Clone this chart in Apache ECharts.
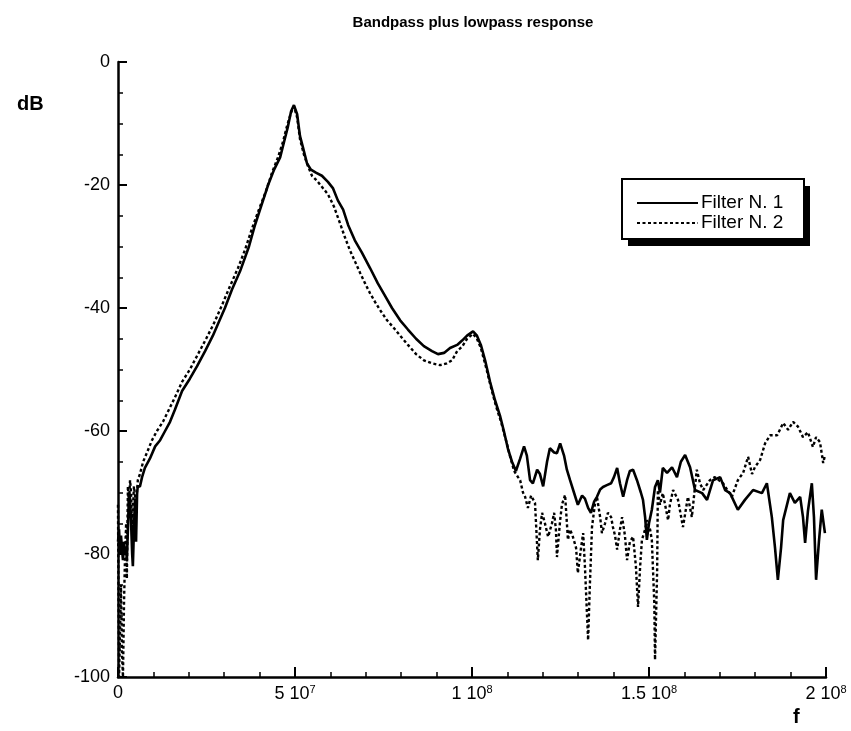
<!DOCTYPE html>
<html>
<head>
<meta charset="utf-8">
<title>Bandpass plus lowpass response</title>
<script src="https://cdn.jsdelivr.net/npm/echarts@6/dist/echarts.min.js"></script>
<style>
  html, body { margin: 0; padding: 0; background: #fff; }
  #chart { width: 851px; height: 731px; }
</style>
</head>
<body>
<div id="chart"></div>
<script>
// Frequency response of two filters: frequency in MHz, magnitude in dB.
const freq1MHz = [0, 0.3, 0.6, 0.85, 1.1, 1.4, 1.7, 2.0, 2.3, 2.5, 2.8, 3.1, 3.4, 3.7, 4.0, 4.2, 4.5, 4.8, 5.1, 5.4, 5.6,
  6.2, 6.8, 7.6, 9.0, 10.5, 11.9, 13.3, 14.7, 16.1, 18.1, 20.3, 22.3, 24.6, 26.8, 30.2, 32.2, 34.5, 37.0, 38.7, 40.7,
  42.4, 44.1, 45.8, 46.9, 48.0, 48.9, 49.7, 50.6, 51.4, 52.3, 53.4, 54.5, 55.9, 57.6, 59.3, 60.7, 62.1, 63.6, 65.0,
  66.9, 68.9, 71.2, 73.4, 75.4, 77.4, 79.7, 81.9, 84.2, 86.4, 88.7, 90.4, 92.1, 93.8, 95.8, 97.2, 98.6, 100.3, 101.4,
  102.5, 103.7, 105.1, 106.5, 107.9, 109.0, 110.2, 111.3, 112.4, 113.6, 114.7, 115.5, 116.4, 117.2, 118.4, 119.2,
  120.1, 121.2, 122.0, 123.2, 124.0, 124.9, 126.0, 126.8, 127.7, 128.8, 129.9, 131.1, 131.9, 132.8, 133.6, 134.5,
  135.3, 136.2, 137.0, 138.1, 139.3, 140.1, 141.0, 141.8, 142.7, 143.8, 144.6, 145.5, 146.6, 147.7, 148.3, 148.9,
  149.4, 150.0, 150.8, 151.7, 152.5, 153.1, 153.9, 155.1, 156.5, 157.9, 159.0, 160.2, 161.6, 163.0, 165.0, 166.4,
  168.1, 170.1, 171.5, 172.9, 175.1, 177.1, 179.4, 181.9, 183.3, 184.7, 185.6, 186.4, 187.3, 187.9, 189.8, 191.2,
  192.7, 193.5, 194.1, 194.9, 196.0, 196.6, 197.2, 198.0, 198.8, 199.7];
const db1 = [-78, -76, -80, -77, -79, -81, -78, -80, -79, -81, -76, -70, -71, -75, -80, -82, -76, -71, -78, -70, -69,
  -69, -67.5, -66, -64.5, -62.5, -61.5, -60, -58.5, -56.5, -53.5, -51.5, -49.5, -47, -44.5, -40, -37, -34, -30, -26.5, -23,
  -20, -17.5, -15.5, -13, -10.5, -8, -7, -8.5, -12, -14, -16.5, -17.5, -18, -18.5, -19.5, -20.5, -22.5, -24, -26.5,
  -29, -31, -33.5, -36, -38, -40, -42, -43.5, -45, -46.2, -47, -47.5, -47.3, -46.5, -46, -45.3, -44.5, -43.8, -44.5,
  -46, -48.5, -52, -55, -57.5, -60, -63, -65, -66.5, -64.5, -62.5, -64, -68, -68.5, -66.3, -67,
  -69, -65, -62.8, -63.5, -63.6, -62, -64, -66.3, -68, -70, -72, -70.5, -71, -72.5, -73.3, -71.5,
  -70.7, -69.5, -69.1, -68.8, -68.5, -67.5, -66, -68.5, -70.7, -68, -66.5, -66.3, -68, -70, -71.2, -74,
  -77.7, -75, -72.8, -69.1, -68, -70, -66, -66.8, -65.9, -67.5, -65, -63.9, -65.9, -69.6, -70.1, -71.2,
  -68, -67.5, -69.6, -70.1, -72.8, -71.2, -69.6, -70.1, -68.5, -74, -79, -84.2, -79, -74.5, -70.1, -71.7,
  -70.7, -74, -78.2, -73, -68.5, -74, -84.2, -78, -72.8, -76.6];

const freq2MHz = [0, 0.15, 0.3, 0.6, 0.85, 1.1, 1.4, 1.7, 2.0, 2.3, 2.5, 2.8, 3.1, 3.4, 3.7, 4.0, 4.2, 4.5, 5.1, 5.6,
  6.2, 7.1, 8.2, 9.6, 11.0, 12.7, 14.4, 16.1, 18.1, 20.3, 22.6, 24.9, 27.1, 29.4, 31.6, 33.9, 35.9, 37.9, 39.8, 41.8,
  43.5, 45.2, 46.6, 47.7, 48.9, 49.7, 50.6, 51.4, 52.5, 53.7, 54.8, 56.2, 57.6, 59.3, 61.0, 62.7, 64.1, 65.5, 67.0,
  68.4, 69.8, 71.2, 72.6, 74.0, 76.0, 77.7, 79.7, 81.9, 84.2, 86.4, 88.7, 91.0, 92.9, 94.4, 95.8, 97.2, 98.6, 100.3,
  101.4, 102.5, 103.9, 105.4, 106.8, 108.2, 109.6, 110.7, 111.9, 113.0, 113.6, 114.4, 115.0, 115.8, 116.7, 117.8,
  118.6, 119.2, 119.8, 120.6, 121.5, 122.6, 123.2, 123.7, 124.0, 124.9, 125.4, 126.3, 127.1, 127.7, 128.5, 129.4,
  129.9, 130.8, 131.4, 131.9, 132.8, 133.3, 133.9, 134.7, 135.3, 136.2, 136.7, 137.6, 138.4, 139.3, 139.8, 140.4,
  141.0, 141.8, 142.4, 143.2, 143.8, 144.6, 145.5, 146.3, 146.9, 147.5, 148.0, 148.9, 149.4, 150.3, 150.8, 151.5,
  151.7, 152.0, 152.3, 152.5, 153.1, 153.9, 155.4, 155.9, 156.8, 158.2, 159.6, 161.0, 162.1, 163.5, 164.4, 165.3,
  167.2, 168.6, 170.9, 173.4, 175.1, 176.6, 178.0, 179.1, 179.9, 181.4, 182.8, 184.2, 186.2, 187.9, 189.3, 190.7,
  192.1, 193.5, 194.9, 196.3, 197.2, 198.3, 199.2, 199.7];
const db2 = [-72, -88, -100, -92, -85, -96, -100, -88, -80, -75, -84, -69, -72, -68, -70, -77, -73, -69, -72, -68,
  -67, -65, -63.5, -61.5, -60, -58.5, -56.5, -54.5, -52, -50, -47.5, -45, -42.5, -39.5, -36.5, -33.5, -30.5, -27, -24, -21,
  -18, -15.5, -13, -10.5, -8.2, -7.2, -9, -12.5, -15, -17, -18.5, -19.3, -20.3, -21.5, -23.5, -26.2, -28.5, -30.6, -32.5,
  -34.3, -36, -37.6, -39, -40.3, -42, -43.1, -44.5, -46, -47.5, -48.5, -49, -49.3, -49, -48.5, -47, -46.3, -45, -44.2,
  -45, -46.5, -49.5, -53, -56, -58.5, -61.5, -64, -66.5, -67.5, -68, -70, -70.7, -72.5, -70.5, -71.7,
  -81, -76, -73.3, -75, -77.2, -75, -73.3, -76, -80.5, -74.5, -72, -70.4, -77.7, -76, -77.2, -79,
  -83.1, -79, -76.6, -82, -94, -85, -75.6, -72, -70.7, -74, -76.6, -75, -73.3, -74, -75.6, -77,
  -79.3, -76, -74, -77, -81, -78, -77.2, -82, -88.6, -82, -77.7, -76, -74.5, -76, -77.7, -88,
  -97.2, -90, -82.6, -69.6, -72, -70.1, -74.5, -72, -69.6, -71.2, -75.6, -70.7, -74, -66.3, -68.5, -69.6,
  -68, -67.5, -68.5, -70.7, -68, -66.8, -64.2, -67, -65.9, -64.7, -62, -60.7, -60.7, -58.7, -59.8, -58.5,
  -59.3, -61, -60.2, -62.6, -61, -61.8, -65.2, -64];

// Axis tick labels, written as mantissa and power of ten
const xTickLabels = ['0', '5 10{sup|7}', '1 10{sup|8}', '1.5 10{sup|8}', '2 10{sup|8}'];
const yTickLabels = ['-100', '-80', '-60', '-40', '-20', '0'];
const seriesNames = ['Filter N. 1', 'Filter N. 2'];

const toPairs = (fMHz, db) => fMHz.map((f, i) => [f * 1e6, db[i]]);

const FONT = '"Liberation Sans", Arial, Helvetica, sans-serif';
const chart = echarts.init(document.getElementById('chart'), null, { renderer: 'canvas' });

// Legend frame: white box with a solid offset shadow
const legendBox = { x: 622, y: 179, width: 182, height: 60 };

chart.setOption({
  animation: false,
  backgroundColor: '#ffffff',
  title: {
    text: 'Bandpass plus lowpass response',
    left: 468,
    top: 10,
    textAlign: 'center',
    textStyle: { fontFamily: FONT, fontWeight: 'bold', fontSize: 15, color: '#000' }
  },
  grid: { left: 118, right: 25, top: 62, bottom: 54, containLabel: false },
  legend: {
    orient: 'vertical',
    left: legendBox.x,
    top: legendBox.y,
    padding: [14, 8, 6, 14],
    itemWidth: 61,
    itemHeight: 14,
    itemGap: 0,
    z: 10,
    itemStyle: { opacity: 0 },
    textStyle: { fontFamily: FONT, fontSize: 19, lineHeight: 20, color: '#000', padding: [0, 0, 0, -2] },
    data: seriesNames
  },
  xAxis: {
    type: 'value',
    min: 0,
    max: 2e8,
    interval: 5e7,
    splitLine: { show: false },
    axisLine: { onZero: false, lineStyle: { color: '#000', width: 2.5 } },
    axisTick: { inside: true, length: 10, lineStyle: { color: '#000', width: 2 } },
    minorTick: { show: true, splitNumber: 5, length: 5, lineStyle: { color: '#000', width: 1.5 } },
    axisLabel: {
      margin: 7,
      color: '#000',
      fontFamily: FONT,
      fontSize: 18,
      formatter: v => xTickLabels[Math.round(v / 5e7)],
      rich: {
        sup: { fontFamily: FONT, fontSize: 11, color: '#000', padding: [0, 0, 10, 0] }
      }
    }
  },
  yAxis: {
    type: 'value',
    min: -100,
    max: 0,
    interval: 20,
    splitLine: { show: false },
    axisLine: { onZero: false, lineStyle: { color: '#000', width: 2.5 } },
    axisTick: { inside: true, length: 9, lineStyle: { color: '#000', width: 2 } },
    minorTick: { show: true, splitNumber: 4, length: 5, lineStyle: { color: '#000', width: 1.5 } },
    axisLabel: {
      margin: 8,
      color: '#000',
      fontFamily: FONT,
      fontSize: 18,
      formatter: v => yTickLabels[Math.round((v + 100) / 20)]
    }
  },
  graphic: [
    {
      type: 'rect', z: 1,
      shape: { x: legendBox.x + 6, y: legendBox.y + 7, width: legendBox.width, height: legendBox.height },
      style: { fill: '#000' }
    },
    {
      type: 'rect', z: 2,
      shape: legendBox,
      style: { fill: '#fff', stroke: '#000', lineWidth: 2 }
    },
    { type: 'text', left: 17, top: 94, style: { text: 'dB', fontFamily: FONT, fontWeight: 'bold', fontSize: 20, fill: '#000' } },
    { type: 'text', left: 793, top: 707, style: { text: 'f', fontFamily: FONT, fontWeight: 'bold', fontSize: 20, fill: '#000' } }
  ],
  series: [
    {
      name: seriesNames[0],
      type: 'line',
      data: toPairs(freq1MHz, db1),
      symbol: 'none',
      lineStyle: { color: '#000', width: 2.6, type: 'solid' },
      itemStyle: { color: '#000' },
      z: 3
    },
    {
      name: seriesNames[1],
      type: 'line',
      data: toPairs(freq2MHz, db2),
      symbol: 'none',
      lineStyle: { color: '#000', width: 2.4, type: [3, 2.5] },
      itemStyle: { color: '#000' },
      z: 2
    }
  ]
});
</script>
</body>
</html>
